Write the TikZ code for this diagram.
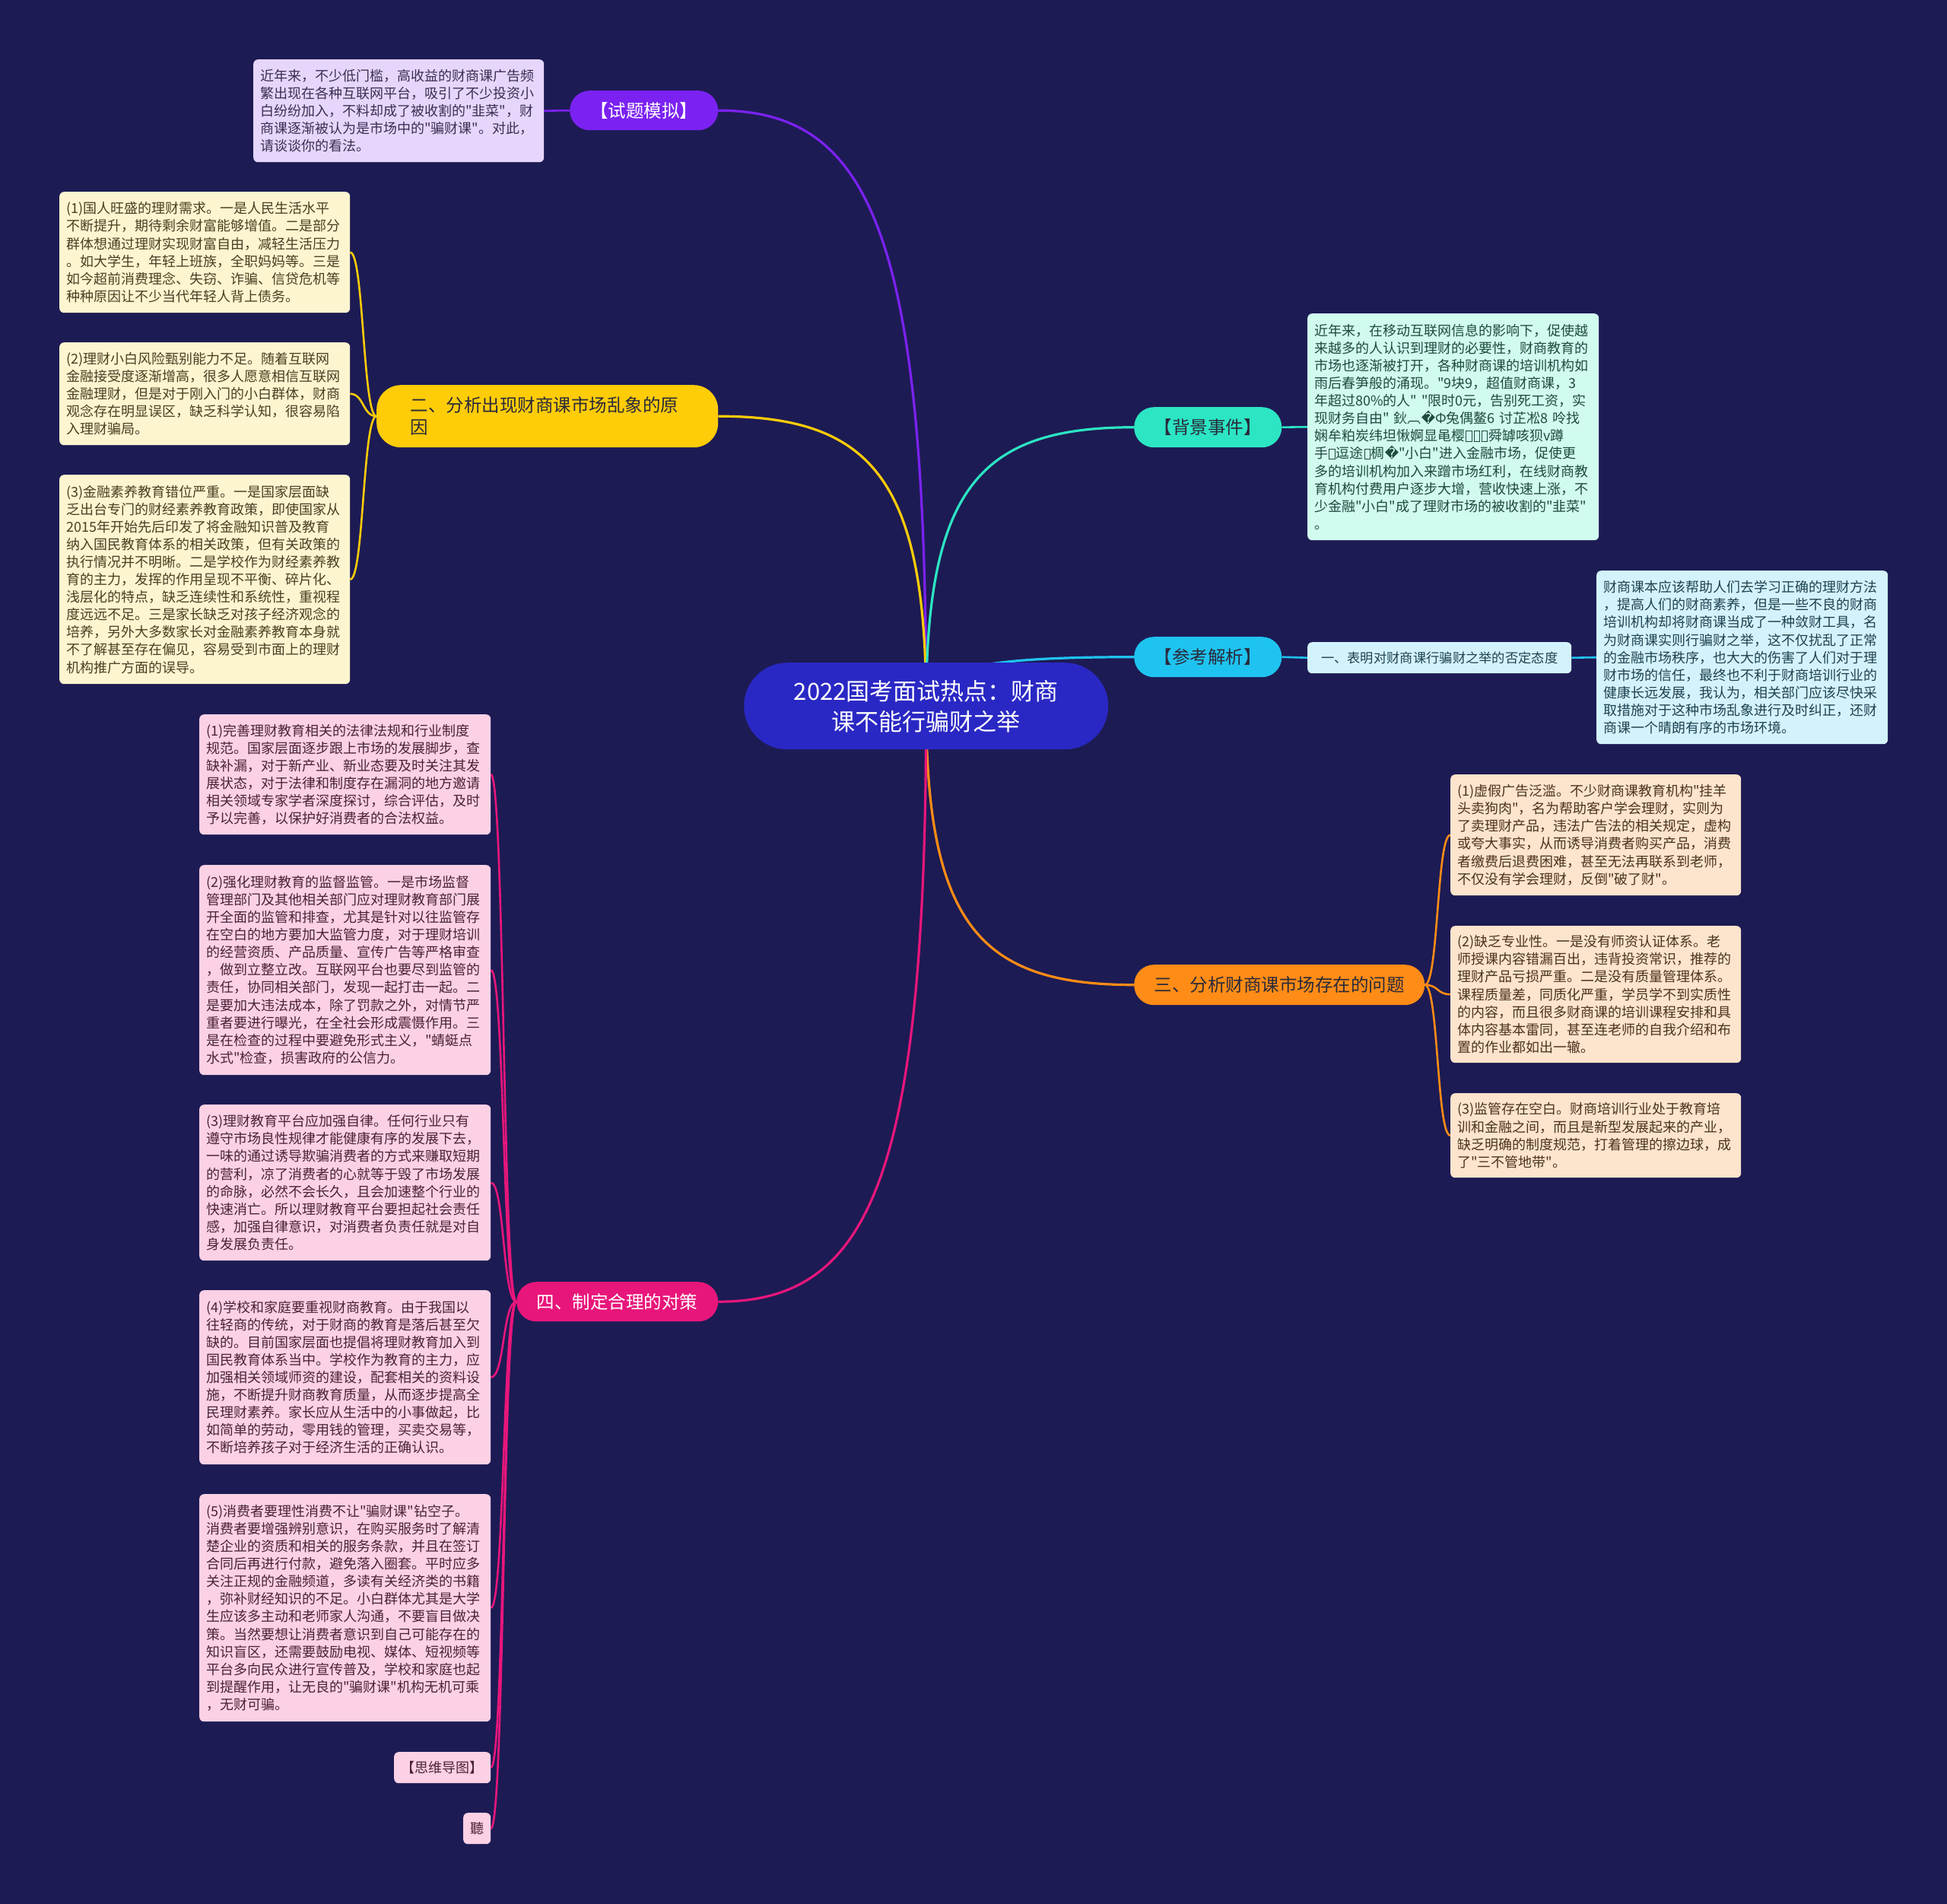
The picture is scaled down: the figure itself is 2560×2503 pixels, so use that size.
\documentclass[tikz,border=0pt]{standalone}
\usepackage{fontspec}
\setmainfont{Noto Sans CJK SC}[Ligatures=TeXOff]
\newfontfamily\dvs{DejaVu Sans}
\definecolor{bgc}{HTML}{1D1B54}
\definecolor{cblue}{HTML}{2A28C4}
\definecolor{purp}{HTML}{7B22F2}
\definecolor{lav}{HTML}{E6D6FB}
\definecolor{lavt}{HTML}{3A2E52}
\definecolor{yel}{HTML}{FFCC08}
\definecolor{cream}{HTML}{FDF5D0}
\definecolor{creamt}{HTML}{4A3F22}
\definecolor{teal}{HTML}{2CE5C3}
\definecolor{mint}{HTML}{D2FBEF}
\definecolor{mintt}{HTML}{1F4A40}
\definecolor{sky}{HTML}{1FC3F0}
\definecolor{lsky}{HTML}{D3F3FC}
\definecolor{lskyt}{HTML}{1F4250}
\definecolor{ora}{HTML}{FF8C16}
\definecolor{peach}{HTML}{FDE4CC}
\definecolor{peacht}{HTML}{4A3320}
\definecolor{mag}{HTML}{E8167B}
\definecolor{pink}{HTML}{FCD1E5}
\definecolor{pinkt}{HTML}{4A2236}
\definecolor{darkt}{HTML}{2A2A3A}
\newcommand\tofu{{\setlength\fboxsep{0pt}\setlength\fboxrule{0.9pt}\kern1pt\raisebox{-0.5pt}{\fbox{\rule{0pt}{13pt}\hspace{6.5pt}}}\kern1pt}}
\newcommand\rep{{\dvs\char"FFFD}}
\pgfdeclarelayer{bottom}
\pgfdeclarelayer{edges}
\pgfsetlayers{bottom,edges,main}
\begin{document}
\begin{tikzpicture}[x=1pt,y=1pt,
  tbox/.style={anchor=north west, rounded corners=6pt, inner sep=0pt, align=left,
    font=\fontsize{18}{23.1}\selectfont},
  lone/.style={anchor=north west, rounded corners=26pt, inner sep=0pt, minimum height=52pt,
    font=\fontsize{23.5}{29}\selectfont},
  main/.style={line width=3.2pt},
  sub/.style={line width=2.6pt}]
\begin{pgfonlayer}{bottom}
\fill[bgc] (0,0) rectangle (2560,-2503);
\end{pgfonlayer}
\useasboundingbox (0,0) rectangle (2560,-2503);

% center
\node[anchor=north west, fill=cblue, text=white, rounded corners=57pt, minimum width=479pt, minimum height=114pt,
  inner sep=0pt, align=center, font=\fontsize{31}{40}\selectfont] (c) at (978,-871)
  {2022国考面试热点：财商\\课不能行骗财之举};

% level 1
\node[lone, fill=purp, text=white, minimum width=195pt] (q) at (749,-119) {【试题模拟】};
\node[lone, fill=yel, text=darkt, minimum width=449pt, minimum height=82pt, rounded corners=32pt,
  text width=360pt, align=left] (two) at (495,-506) {二、分析出现财商课市场乱象的原\\因};
\node[lone, fill=teal, text=darkt, minimum width=194pt, minimum height=53pt] (bgn) at (1491,-535) {【背景事件】};
\node[lone, fill=sky, text=darkt, minimum width=194pt, minimum height=53pt] (ck) at (1491,-837) {【参考解析】};
\node[lone, fill=ora, text=darkt, minimum width=382pt, minimum height=53pt] (three) at (1491,-1268) {三、分析财商课市场存在的问题};
\node[lone, fill=mag, text=white, minimum width=265pt] (four) at (679,-1685) {四、制定合理的对策};

% 试题模拟 child
\node[tbox, fill=lav, text=lavt, minimum width=382pt, minimum height=135pt, text width=364pt] (qa) at (333,-78)
{近年来，不少低门槛，高收益的财商课广告频\\
繁出现在各种互联网平台，吸引了不少投资小\\
白纷纷加入，不料却成了被收割的"韭菜"，财\\
商课逐渐被认为是市场中的"骗财课"。对此，\\
请谈谈你的看法。};

% 二 children
\node[tbox, fill=cream, text=creamt, minimum width=382pt, minimum height=159pt, text width=364pt] (b1) at (78,-252)
{(1)国人旺盛的理财需求。一是人民生活水平\\
不断提升，期待剩余财富能够增值。二是部分\\
群体想通过理财实现财富自由，减轻生活压力\\
。如大学生，年轻上班族，全职妈妈等。三是\\
如今超前消费理念、失窃、诈骗、信贷危机等\\
种种原因让不少当代年轻人背上债务。};
\node[tbox, fill=cream, text=creamt, minimum width=382pt, minimum height=135pt, text width=364pt] (b2) at (78,-450)
{(2)理财小白风险甄别能力不足。随着互联网\\
金融接受度逐渐增高，很多人愿意相信互联网\\
金融理财，但是对于刚入门的小白群体，财商\\
观念存在明显误区，缺乏科学认知，很容易陷\\
入理财骗局。};
\node[tbox, fill=cream, text=creamt, minimum width=382pt, minimum height=275pt, text width=364pt] (b3) at (78,-624)
{(3)金融素养教育错位严重。一是国家层面缺\\
乏出台专门的财经素养教育政策，即使国家从\\
2015年开始先后印发了将金融知识普及教育\\
纳入国民教育体系的相关政策，但有关政策的\\
执行情况并不明晰。二是学校作为财经素养教\\
育的主力，发挥的作用呈现不平衡、碎片化、\\
浅层化的特点，缺乏连续性和系统性，重视程\\
度远远不足。三是家长缺乏对孩子经济观念的\\
培养，另外大多数家长对金融素养教育本身就\\
不了解甚至存在偏见，容易受到市面上的理财\\
机构推广方面的误导。};

% 背景事件 child
\node[tbox, fill=mint, text=mintt, minimum width=383pt, minimum height=298pt, text width=365pt] (bga) at (1719,-412)
{近年来，在移动互联网信息的影响下，促使越\\
来越多的人认识到理财的必要性，财商教育的\\
市场也逐渐被打开，各种财商课的培训机构如\\
雨后春笋般的涌现。"9块9，超值财商课，3\\
年超过80\%的人"~"限时0元，告别死工资，实\\
现财务自由"~鈥︹\rep Ф兔偶鳌6~讨芷凇8~呤找\\
娴牟粕炭纬坦愀婀显黾樱\tofu\tofu\tofu 舜罅咳狈v蹲\\
手\tofu 逗途\tofu 椆\rep"小白"进入金融市场，促使更\\
多的培训机构加入来蹭市场红利，在线财商教\\
育机构付费用户逐步大增，营收快速上涨，不\\
少金融"小白"成了理财市场的被收割的"韭菜"\\
。};

% 参考解析 children
\node[tbox, fill=lsky, text=lskyt, minimum width=347pt, minimum height=41pt, align=center,
  font=\fontsize{17.3}{22}\selectfont] (ck1) at (1719,-844) {一、表明对财商课行骗财之举的否定态度};
\node[tbox, fill=lsky, text=lskyt, minimum width=383pt, minimum height=228pt, text width=365pt] (ck2) at (2099,-750)
{财商课本应该帮助人们去学习正确的理财方法\\
，提高人们的财商素养，但是一些不良的财商\\
培训机构却将财商课当成了一种敛财工具，名\\
为财商课实则行骗财之举，这不仅扰乱了正常\\
的金融市场秩序，也大大的伤害了人们对于理\\
财市场的信任，最终也不利于财商培训行业的\\
健康长远发展，我认为，相关部门应该尽快采\\
取措施对于这种市场乱象进行及时纠正，还财\\
商课一个晴朗有序的市场环境。};

% 三 children
\node[tbox, fill=peach, text=peacht, minimum width=382pt, minimum height=159pt, text width=364pt] (f1) at (1907,-1018)
{(1)虚假广告泛滥。不少财商课教育机构"挂羊\\
头卖狗肉"，名为帮助客户学会理财，实则为\\
了卖理财产品，违法广告法的相关规定，虚构\\
或夸大事实，从而诱导消费者购买产品，消费\\
者缴费后退费困难，甚至无法再联系到老师，\\
不仅没有学会理财，反倒"破了财"。};
\node[tbox, fill=peach, text=peacht, minimum width=382pt, minimum height=180pt, text width=364pt] (f2) at (1907,-1217)
{(2)缺乏专业性。一是没有师资认证体系。老\\
师授课内容错漏百出，违背投资常识，推荐的\\
理财产品亏损严重。二是没有质量管理体系。\\
课程质量差，同质化严重，学员学不到实质性\\
的内容，而且很多财商课的培训课程安排和具\\
体内容基本雷同，甚至连老师的自我介绍和布\\
置的作业都如出一辙。};
\node[tbox, fill=peach, text=peacht, minimum width=382pt, minimum height=111pt, text width=364pt] (f3) at (1907,-1437)
{(3)监管存在空白。财商培训行业处于教育培\\
训和金融之间，而且是新型发展起来的产业，\\
缺乏明确的制度规范，打着管理的擦边球，成\\
了"三不管地带"。};

% 四 children
\node[tbox, fill=pink, text=pinkt, minimum width=383pt, minimum height=158pt, text width=365pt] (g1) at (262,-939)
{(1)完善理财教育相关的法律法规和行业制度\\
规范。国家层面逐步跟上市场的发展脚步，查\\
缺补漏，对于新产业、新业态要及时关注其发\\
展状态，对于法律和制度存在漏洞的地方邀请\\
相关领域专家学者深度探讨，综合评估，及时\\
予以完善，以保护好消费者的合法权益。};
\node[tbox, fill=pink, text=pinkt, minimum width=383pt, minimum height=276pt, text width=365pt] (g2) at (262,-1137)
{(2)强化理财教育的监督监管。一是市场监督\\
管理部门及其他相关部门应对理财教育部门展\\
开全面的监管和排查，尤其是针对以往监管存\\
在空白的地方要加大监管力度，对于理财培训\\
的经营资质、产品质量、宣传广告等严格审查\\
，做到立整立改。互联网平台也要尽到监管的\\
责任，协同相关部门，发现一起打击一起。二\\
是要加大违法成本，除了罚款之外，对情节严\\
重者要进行曝光，在全社会形成震慑作用。三\\
是在检查的过程中要避免形式主义，"蜻蜓点\\
水式"检查，损害政府的公信力。};
\node[tbox, fill=pink, text=pinkt, minimum width=383pt, minimum height=205pt, text width=365pt] (g3) at (262,-1452)
{(3)理财教育平台应加强自律。任何行业只有\\
遵守市场良性规律才能健康有序的发展下去，\\
一味的通过诱导欺骗消费者的方式来赚取短期\\
的营利，凉了消费者的心就等于毁了市场发展\\
的命脉，必然不会长久，且会加速整个行业的\\
快速消亡。所以理财教育平台要担起社会责任\\
感，加强自律意识，对消费者负责任就是对自\\
身发展负责任。};
\node[tbox, fill=pink, text=pinkt, minimum width=383pt, minimum height=229pt, text width=365pt] (g4) at (262,-1696)
{(4)学校和家庭要重视财商教育。由于我国以\\
往轻商的传统，对于财商的教育是落后甚至欠\\
缺的。目前国家层面也提倡将理财教育加入到\\
国民教育体系当中。学校作为教育的主力，应\\
加强相关领域师资的建设，配套相关的资料设\\
施，不断提升财商教育质量，从而逐步提高全\\
民理财素养。家长应从生活中的小事做起，比\\
如简单的劳动，零用钱的管理，买卖交易等，\\
不断培养孩子对于经济生活的正确认识。};
\node[tbox, fill=pink, text=pinkt, minimum width=383pt, minimum height=299pt, text width=365pt] (g5) at (262,-1964)
{(5)消费者要理性消费不让"骗财课"钻空子。\\
消费者要增强辨别意识，在购买服务时了解清\\
楚企业的资质和相关的服务条款，并且在签订\\
合同后再进行付款，避免落入圈套。平时应多\\
关注正规的金融频道，多读有关经济类的书籍\\
，弥补财经知识的不足。小白群体尤其是大学\\
生应该多主动和老师家人沟通，不要盲目做决\\
策。当然要想让消费者意识到自己可能存在的\\
知识盲区，还需要鼓励电视、媒体、短视频等\\
平台多向民众进行宣传普及，学校和家庭也起\\
到提醒作用，让无良的"骗财课"机构无机可乘\\
，无财可骗。};
\node[tbox, fill=pink, text=pinkt, minimum width=127pt, minimum height=41pt, align=center] (g6) at (518,-2303) {【思维导图】};
\node[tbox, fill=pink, text=pinkt, minimum width=36pt, minimum height=41pt, align=center] (g7) at (609,-2383) {聽};

% connectors
\begin{pgfonlayer}{edges}
\draw[main, purp] (c.center) to[out=90,in=0,out distance=620pt,in distance=200pt] (q.east);
\draw[main, yel] (c.center) to[out=90,in=0,out distance=300pt,in distance=200pt] (two.east);
\draw[main, teal] (c.center) to[out=90,in=180,out distance=290pt,in distance=200pt] (bgn.west);
\draw[main, sky] (c.center) to[out=90,in=180,out distance=50pt,in distance=200pt] (ck.west);
\draw[main, ora] (c.center) to[out=-90,in=180,out distance=290pt,in distance=200pt] (three.west);
\draw[main, mag] (c.center) to[out=-90,in=0,out distance=620pt,in distance=200pt] (four.east);

\draw[sub, purp] (q.west) -- (qa.east);
\draw[sub, teal] (bgn.east) -- (bga.west);
\draw[sub, sky] (ck.east) -- (ck1.west);
\draw[sub, sky] (ck1.east) -- (ck2.west);

\foreach \t in {b1,b2,b3}
  \draw[sub, yel] (two.west) to[out=180,in=0,out distance=18pt,in distance=18pt] (\t.east);
\foreach \t in {f1,f2,f3}
  \draw[sub, ora] (three.east) to[out=0,in=180,out distance=18pt,in distance=18pt] (\t.west);
\foreach \t in {g1,g2,g3,g4,g5,g6,g7}
  \draw[sub, mag] (four.west) to[out=180,in=0,out distance=18pt,in distance=18pt] (\t.east);
\end{pgfonlayer}
\end{tikzpicture}
\end{document}
